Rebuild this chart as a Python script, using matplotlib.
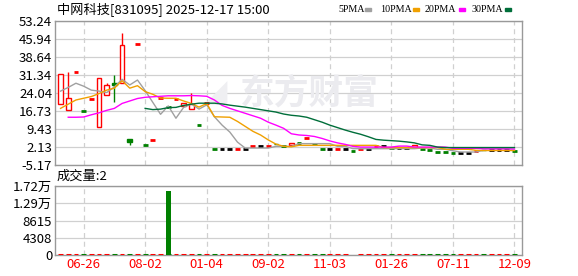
import numpy as np
import matplotlib
matplotlib.use("Agg")
import matplotlib.pyplot as plt
from matplotlib.patches import Rectangle

plt.rcParams['font.family'] = ['Noto Sans CJK SC', 'DejaVu Sans']

nan = np.nan
opens  = [19.45, 17.1, 32.4, 16.7, 21.7, 10.1, 23.1, 28.2, 27.9, 5.4,
          43.8, 2.95, 5.0, 21.9, 18.5, 21.7, 18.8, 17.4, 11.0, 19.9,
          1.2, 1.2, 1.2, 1.3, 1.3, 2.4, 2.4, 2.7, 3.5, 2.5,
          2.8, 3.6, 5.8, 3.5, 1.2, 1.2, 1.3, 1.3, 0.5, 1.3,
          1.3, 2.4, 2.4, 1.9, 1.9, 1.9, 2.0, 1.2, 0.8, 0.1,
          0.0, -0.1, -0.1, -0.1, 0.5, 0.95, 0.8, 0.8, 0.8, 0.5]
closes = [31.6, 21.9, 32.4, 16.7, 21.7, 30.0, 27.3, 27.3, 43.5, 4.0,
          43.8, 2.95, 5.0, 21.9, 18.5, 21.7, 19.9, 19.6, 11.0, 19.9,
          1.2, 1.2, 1.2, 1.3, 1.3, 2.4, 2.4, 2.7, 3.2, 2.5,
          3.8, 3.6, 5.8, 3.5, 1.2, 1.2, 1.3, 1.3, 0.5, 1.3,
          1.3, 2.4, 2.4, 1.9, 1.9, 1.9, 2.95, 1.2, 0.8, 0.1,
          0.0, -0.1, -0.1, -0.1, 0.5, 0.8, 0.8, 0.8, 0.8, 0.5]
highs  = [31.6, 32.7, 32.4, 16.7, 21.7, 30.0, 28.2, 31.3, 48.5, 5.4,
          43.8, 2.95, 5.0, 21.9, 18.5, 21.7, 19.9, 24.0, 11.0, 19.9,
          1.2, 1.2, 1.2, 1.3, 1.3, 2.4, 2.4, 2.7, 3.5, 2.5,
          3.8, 3.6, 5.8, 3.5, 1.2, 1.2, 1.3, 1.3, 0.5, 1.3,
          1.3, 2.4, 2.4, 1.9, 1.9, 1.9, 2.95, 1.2, 0.8, 0.1,
          0.0, -0.1, -0.1, -0.1, 0.5, 0.95, 0.8, 0.8, 0.8, 0.5]
lows   = [19.45, 17.1, 32.4, 16.7, 21.7, 10.1, 23.1, 20.2, 27.9, 2.95,
          43.8, 2.95, 5.0, 21.9, 18.5, 21.7, 18.8, 17.4, 11.0, 19.9,
          1.2, 1.2, 1.2, 1.3, 1.3, 2.4, 2.4, 2.7, 3.2, 2.5,
          2.8, 3.6, 5.8, 3.5, 1.2, 1.2, 1.3, 1.3, 0.5, 1.3,
          1.3, 2.4, 2.4, 1.9, 1.9, 1.9, 2.0, 1.2, 0.8, 0.1,
          0.0, -0.1, -0.1, -0.1, 0.5, 0.8, 0.8, 0.8, 0.8, 0.5]
volumes = [3, 2, 1, 1, 2, 5, 2, 3, 6, 2,
           1, 1, 1, 1, 16000, 1, 2, 3, 1, 1,
           1, 1, 1, 1, 1, 1, 1, 1, 1, 1,
           1, 1, 1, 1, 1, 1, 1, 1, 0, 1,
           1, 1, 1, 1, 1, 1, 1, 1, 1, 1,
           1, 1, 1, 1, 1, 1, 1, 1, 1, 2]

ma5 = [24.8, 26.3, 28.0, 26.8, 25.2, 24.8, 24.2, 26.5, 29.6, 27.3,
       29.3, 25.0, 20.2, 15.4, 18.8, 13.8, 18.2, 19.6, 17.5, 19.2,
       14.4, 11.0, 8.2, 4.1, 1.7, 1.7, 1.7, 1.7, 2.4, 2.4,
       2.4, 3.5, 3.5, 3.5, 3.5, 3.5, 2.4, 2.4, 1.45, 1.45,
       1.45, 1.45, 1.45, 1.45, 1.45, 1.45, 1.45, 1.7, 1.7, 1.2,
       1.2, 0.6, 0.1, 0.1, 0.1, 0.8, 0.8, 0.8, 0.8, 0.8]
ma10 = [17.8, 19.5, 21.2, 21.9, 22.6, 23.8, 25.2, 26.0, 29.0, 26.0,
        27.0, 24.6, 23.5, 22.0, 21.9, 21.9, 20.8, 19.8, 18.3, 19.8,
        14.4, 14.3, 14.2, 12.5, 10.5, 8.5, 7.0, 5.0, 3.3, 2.4,
        2.2, 2.8, 2.8, 2.8, 2.8, 2.8, 2.8, 2.8, 2.8, 2.8,
        2.8, 2.8, 1.9, 1.9, 1.9, 1.9, 1.9, 1.9, 1.9, 1.9,
        1.2, 1.2, 1.2, 1.2, 0.8, 0.7, 0.7, 0.7, 0.7, 0.7]
ma20 = [nan, 14.2, 14.2, 14.3, 15.2, 16.0, 17.0, 17.8, 19.8, 20.8,
        21.8, 22.3, 22.5, 22.7, 22.9, 22.9, 22.9, 23.0, 22.9, 22.7,
        21.2, 19.0, 17.8, 16.8, 15.8, 14.8, 13.8, 12.2, 11.0, 9.7,
        7.5, 7.0, 6.8, 6.4, 5.6, 4.6, 3.8, 3.2, 2.4, 2.1,
        2.1, 2.1, 2.1, 2.1, 2.5, 2.5, 2.1, 2.1, 2.1, 2.1,
        2.1, 1.6, 1.6, 1.6, 1.6, 1.4, 1.4, 1.4, 1.4, 1.3]
ma30 = [nan, nan, nan, nan, nan, nan, nan, nan, nan, nan,
        nan, 17.8, 17.3, 17.5, 18.1, 18.2, 19.0, 19.5, 19.9, 19.9,
        19.9, 19.6, 19.1, 18.7, 18.3, 17.8, 17.3, 16.8, 16.3, 15.5,
        15.0, 14.7, 14.2, 13.2, 12.2, 11.0, 10.0, 9.0, 8.1, 7.3,
        6.3, 5.2, 4.9, 4.7, 4.5, 4.2, 3.8, 3.0, 2.8, 2.1,
        1.9, 1.9, 1.9, 1.9, 1.9, 1.9, 1.9, 1.9, 1.9, 1.9]

price_ticks = [-5.17, 2.13, 9.43, 16.73, 24.04, 31.34, 38.64, 45.94, 53.24]
vol_ticks = [0, 4308, 8615, 12920, 17230]
vol_labels = ['0', '4308', '8615', '1.29万', '1.72万']
date_pos = [3, 11, 19, 27, 35, 43, 51, 59]
date_labels = ['06-26', '08-02', '01-04', '09-02', '11-03', '01-26', '07-11', '12-09']
ma_names = ['5PMA', '10PMA', '20PMA', '30PMA']

RED = '#ff0000'
GREEN = '#008000'
MA_COLORS = ['#a0a0a0', '#f0a000', '#ff00ff', '#006e3a']
GRID = '#d0d0d0'
FRAME = '#999999'

fig = plt.figure(figsize=(5.78, 2.76), dpi=100)
axp = fig.add_axes([55/578, 1-165/276, 467/578, 144/276])
axv = fig.add_axes([55/578, 1-255/276, 467/578, 69/276])

n = len(closes)
x = np.arange(n)
W = 0.62

colors = []
for i in range(n):
    o, c = opens[i], closes[i]
    if c > o:
        col = RED
    elif c < o:
        col = GREEN
    else:
        prev = closes[i-1] if i > 0 else c
        col = RED if c > prev else (GREEN if c < prev else 'black')
    colors.append(col)

for i in range(n):
    o, c, h, l = opens[i], closes[i], highs[i], lows[i]
    col = colors[i]
    if o == c:
        axp.hlines(c, i - W/2, i + W/2, colors=col, lw=2.0, zorder=3)
        continue
    lo, hi = min(o, c), max(o, c)
    if h > hi:
        axp.vlines(i, hi, h, colors=col, lw=1.0, zorder=3)
    if l < lo:
        axp.vlines(i, l, lo, colors=col, lw=1.0, zorder=3)
    if c > o:
        axp.add_patch(Rectangle((i - W/2, lo), W, hi - lo, facecolor='white',
                                edgecolor=col, lw=1.0, zorder=3))
    else:
        axp.add_patch(Rectangle((i - W/2, lo), W, max(hi - lo, 0.3), facecolor=col,
                                edgecolor=col, lw=1.0, zorder=3))

for ma, col in zip([ma5, ma10, ma20, ma30], MA_COLORS):
    axp.plot(x, ma, color=col, lw=1.0, zorder=4)

# watermark
axp.text(0.545, 0.50, '东方财富', transform=axp.transAxes, fontsize=25,
         color='#ebebef', ha='center', va='center', fontweight='bold', zorder=1)
axp.text(0.345, 0.50, '◢', transform=axp.transAxes, fontsize=22,
         color='#efeff2', ha='center', va='center', zorder=1,
         family='DejaVu Sans')

for ax in (axp, axv):
    ax.set_xlim(-0.72, 59.98)
    for sp in ax.spines.values():
        sp.set_color(FRAME)
        sp.set_linewidth(1.0)
    ax.set_xticks(date_pos)
    ax.grid(axis='x', color=GRID, ls=(0, (4, 3)), lw=0.9, zorder=0)
    ax.grid(axis='y', color=GRID, ls='-', lw=0.9, zorder=0)
    ax.set_axisbelow(True)
    ax.tick_params(length=0, labelsize=9.5, pad=2)

axp.set_ylim(price_ticks[0], price_ticks[-1])
axp.set_yticks(price_ticks)
axp.set_yticklabels([f'{v:.2f}' for v in price_ticks])
axp.set_xticklabels([])

for i in range(n):
    col = GREEN if colors[i] == GREEN else RED
    if volumes[i] > 0:
        axv.bar(i, volumes[i], width=W, color=col, lw=0, zorder=3)
        axv.hlines(0, i - W/2, i + W/2, colors=col, lw=2.2, zorder=3)
axv.set_ylim(0, 17230)
axv.set_yticks(vol_ticks)
axv.set_yticklabels(vol_labels)
axv.set_xticklabels(date_labels, color=RED)

fig.text(57/578, 1-9/276, '中网科技[831095] 2025-12-17 15:00', fontsize=9.5,
         ha='left', va='center')
fig.text(57/578, 1-176/276, '成交量:2', fontsize=9.5, ha='left', va='center')

txs = [338, 380, 425, 471]
mxs = [365, 413, 459, 505]
for name, col, tx, mx in zip(ma_names, MA_COLORS, txs, mxs):
    fig.text(tx/578, 1-9/276, name, fontsize=7.2, ha='left', va='center',
             family='Liberation Serif')
    fig.patches.append(Rectangle((mx/578, 1-11/276), 6/578, 3/276,
                                 transform=fig.transFigure, color=col))

fig.savefig('out.png', dpi=100)
